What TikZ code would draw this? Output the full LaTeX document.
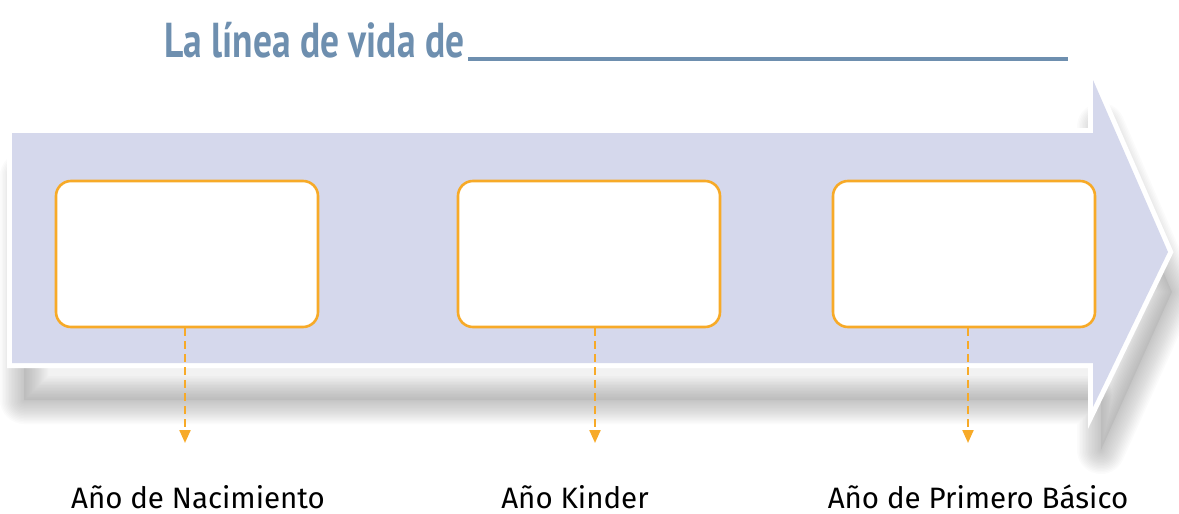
\documentclass[tikz,border=0pt]{standalone}
\usepackage{fontspec}
\setmainfont{Fira Sans}
\newfontfamily\titlefont{PT Sans}
\usetikzlibrary{arrows.meta}
\definecolor{arrowfill}{RGB}{213,216,236}
\definecolor{boxorange}{RGB}{247,170,40}
\definecolor{titleblue}{RGB}{110,143,175}
\tikzset{
  datebox/.style={draw=boxorange, line width=2.6pt, fill=white, rounded corners=15pt},
  dashlink/.style={draw=boxorange, line width=2.2pt, dash pattern=on 8pt off 5pt, -{Triangle[length=13pt,width=11pt]}},
  yearlabel/.style={font=\fontsize{29.5}{32}\selectfont, text=black, inner sep=0pt, anchor=base},
}
\begin{document}
\begin{tikzpicture}[x=1pt,y=-1pt]
\useasboundingbox (0,0) rectangle (1179,514);
% soft shadow
\foreach \w in {48,45,...,2}{
  \draw[line width=\w pt, black, opacity=0.014, line join=round]
    (24,176) -- (1101,176) -- (1101,127) -- (1172,292) -- (1101,450) -- (1101,400) -- (24,400) -- cycle;
}
\fill[black, opacity=0.05]
    (24,176) -- (1101,176) -- (1101,127) -- (1172,292) -- (1101,450) -- (1101,400) -- (24,400) -- cycle;
% arrow body
\draw[white, line width=10pt, line join=miter, fill=white]
  (12,133) -- (1093,133) -- (1093,80) -- (1168,252) -- (1093,407) -- (1093,363) -- (12,363) -- cycle;
\fill[arrowfill]
  (12,133) -- (1093,133) -- (1093,80) -- (1168,252) -- (1093,407) -- (1093,363) -- (12,363) -- cycle;
% title
\node[anchor=base west, inner sep=0pt, text=titleblue] (title) at (164,57)
  {\scalebox{0.765}[1]{\titlefont\bfseries\fontsize{49}{52}\selectfont La línea de vida de}};
\coordinate (ulA) at (468,59);
\coordinate (ulB) at (1068,59);
\draw[titleblue, line width=3.5pt] (ulA) -- (ulB);
% boxes
\node[datebox, minimum width=262pt, minimum height=146pt, inner sep=0pt] (b1) at (187,254) {};
\node[datebox, minimum width=262pt, minimum height=146pt, inner sep=0pt] (b2) at (589,254) {};
\node[datebox, minimum width=262pt, minimum height=146pt, inner sep=0pt] (b3) at (964,254) {};
% labels
\node[yearlabel] (l1) at (198,508) {Año de Nacimiento};
\node[yearlabel] (l2) at (575,508) {Año Kinder};
\node[yearlabel] (l3) at (978,508) {Año de Primero Básico};
% connectors
\coordinate (e1) at (185,443);
\coordinate (e2) at (595,443);
\coordinate (e3) at (968,443);
\draw[dashlink] (b1.south -| e1) -- (e1);
\draw[dashlink] (b2.south -| e2) -- (e2);
\draw[dashlink] (b3.south -| e3) -- (e3);
\end{tikzpicture}
\end{document}
